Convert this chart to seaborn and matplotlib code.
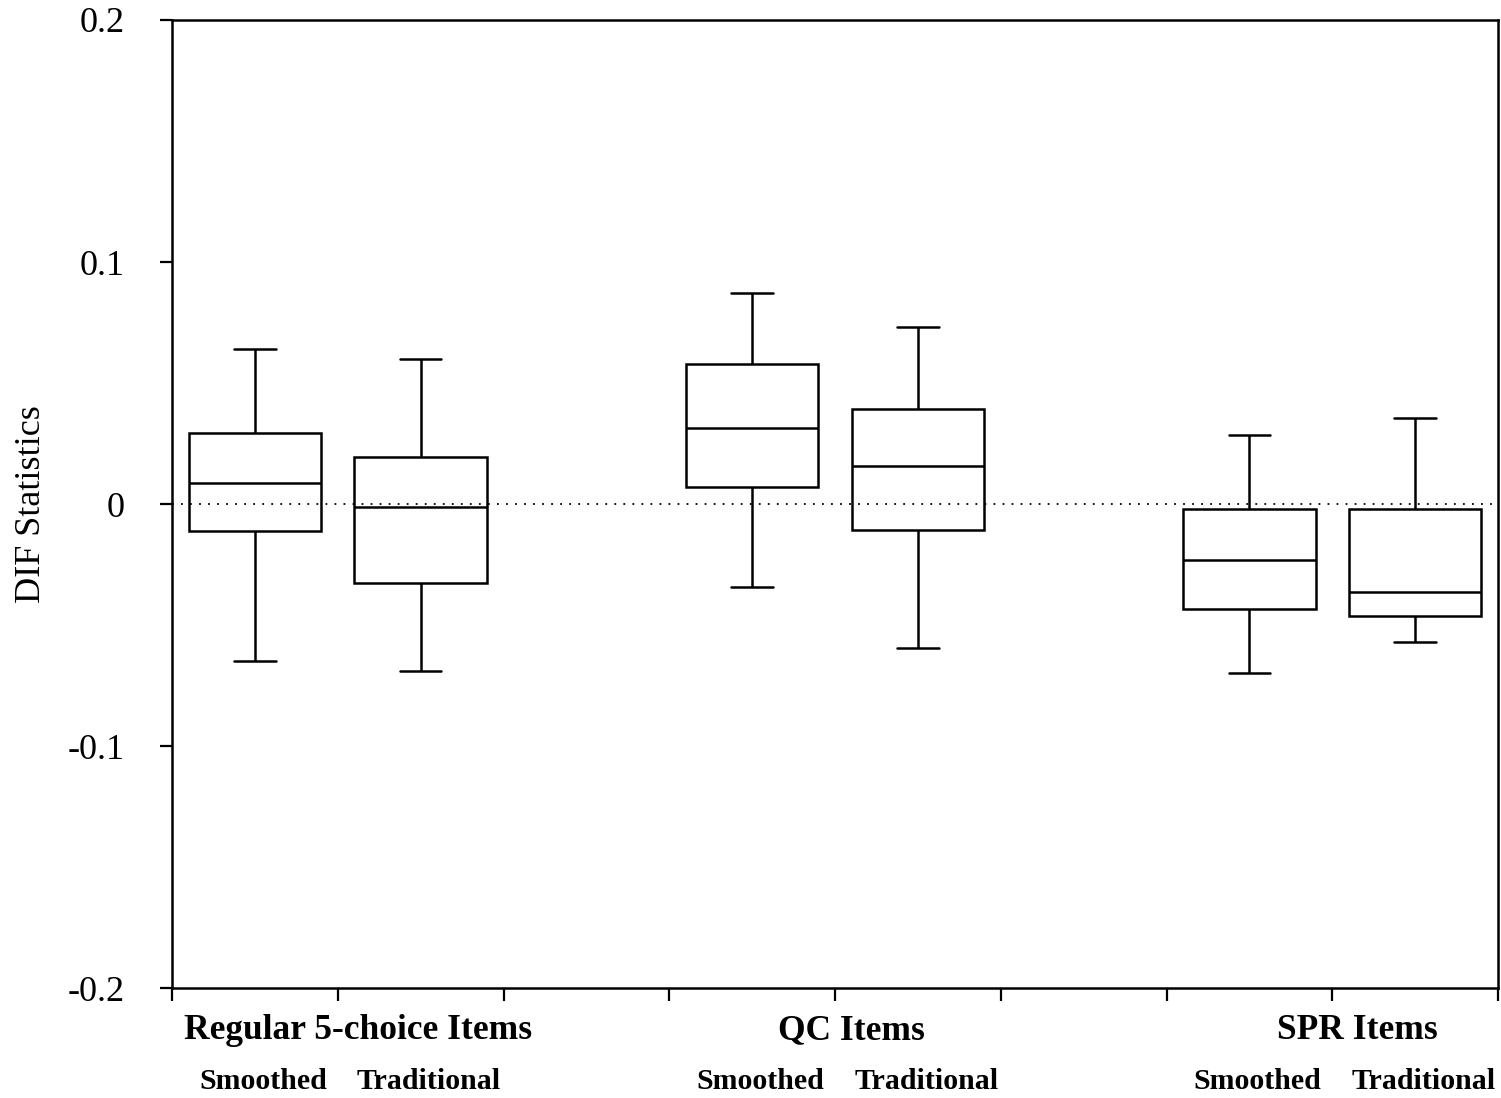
import numpy as np
import pandas as pd
import matplotlib
matplotlib.use("Agg")
import matplotlib.pyplot as plt
import matplotlib.transforms as mtransforms
import seaborn as sns

# ---- data (five-number summaries: min, Q1, median, Q3, max) ----
groups = ["Regular 5-choice Items", "QC Items", "SPR Items"]
methods = ["Smoothed", "Traditional"]
reg_smoothed = [-0.065, -0.011, 0.0087, 0.0294, 0.064]
reg_traditional = [-0.069, -0.0327, -0.001, 0.0195, 0.060]
qc_smoothed = [-0.0342, 0.0072, 0.0316, 0.0577, 0.0871]
qc_traditional = [-0.0596, -0.0108, 0.0157, 0.0393, 0.0733]
spr_smoothed = [-0.0698, -0.0433, -0.023, -0.0019, 0.0287]
spr_traditional = [-0.0571, -0.0464, -0.0364, -0.0021, 0.0356]
y_ticks = [-0.2, -0.1, 0, 0.1, 0.2]
y_tick_labels = ["-0.2", "-0.1", "0", "0.1", "0.2"]
y_label = "DIF Statistics"

series = {
    ("Regular 5-choice Items", "Smoothed"): reg_smoothed,
    ("Regular 5-choice Items", "Traditional"): reg_traditional,
    ("QC Items", "Smoothed"): qc_smoothed,
    ("QC Items", "Traditional"): qc_traditional,
    ("SPR Items", "Smoothed"): spr_smoothed,
    ("SPR Items", "Traditional"): spr_traditional,
}

rows = []
for (g, m), vals in series.items():
    for v in vals:
        rows.append({"slot": f"{g}|{m}", "value": v})
df = pd.DataFrame(rows)

# category order with empty spacer slots between groups
order = []
for i, g in enumerate(groups):
    for m in methods:
        order.append(f"{g}|{m}")
    if i < len(groups) - 1:
        order.append(f"gap{i}")

sns.set_style("ticks")
plt.rcParams["font.family"] = ["Liberation Serif", "DejaVu Serif"]
plt.rcParams["text.color"] = "black"
plt.rcParams["axes.labelcolor"] = "black"

fig = plt.figure(figsize=(15.01, 10.98), dpi=100)
ax = fig.add_axes([0.1146, 0.100, 0.8834, 0.8818])

sns.boxplot(data=df, x="slot", y="value", order=order, whis=(0, 100),
            width=0.8, color="white", linecolor="black", linewidth=1.8,
            capwidths=0.25, showfliers=False, ax=ax)

ax.axhline(0, color="black", linestyle=(0, (1, 4)), linewidth=1.3, zorder=5)

ax.set_xlim(-0.5, len(order) - 0.5)
ax.set_ylim(-0.2, 0.2)
ax.set_xticks(np.arange(-0.5, len(order), 1.0))
ax.set_xticklabels([])
ax.set_yticks(y_ticks)
ax.set_yticklabels(y_tick_labels)
ax.tick_params(axis="both", direction="out", length=9, width=1.6,
               labelsize=26, colors="black")
ax.tick_params(axis="y", pad=25)
for s in ax.spines.values():
    s.set_visible(True)
    s.set_linewidth(1.8)
    s.set_color("black")

ax.set_xlabel("")
ax.set_ylabel(y_label, fontsize=26, labelpad=14)

trans = mtransforms.blended_transform_factory(ax.transData, ax.transAxes)
group_offsets = [0.62, 0.6, 0.65]
for i, g in enumerate(groups):
    base = order.index(f"{g}|Smoothed")
    ax.text(base + group_offsets[i], -0.044, g, transform=trans, ha="center",
            va="center", fontsize=25.5, fontweight="bold")
    for j, m in enumerate(methods):
        ax.text(base + j + 0.05, -0.096, m, transform=trans, ha="center",
                va="center", fontsize=21.5, fontweight="bold")

fig.savefig("out.png", dpi=100)
